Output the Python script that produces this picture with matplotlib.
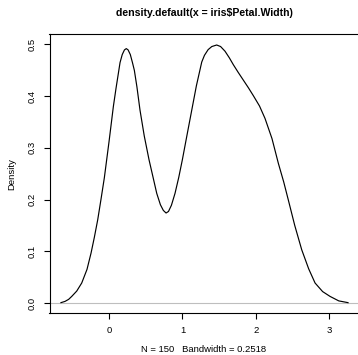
import matplotlib
matplotlib.use("Agg")
import matplotlib.pyplot as plt

plt.rcParams['font.family'] = ['Liberation Sans', 'DejaVu Sans']

# density curve points
dens_x = [-0.655, -0.60, -0.55, -0.508, -0.44, -0.372, -0.30, -0.245, -0.20,
          -0.154, -0.11, -0.064, 0.0, 0.059, 0.095, 0.127, 0.15, 0.18, 0.21,
          0.235, 0.26, 0.29, 0.32, 0.345, 0.38, 0.422, 0.48, 0.545, 0.60, 0.650,
          0.70, 0.74, 0.777, 0.81, 0.85, 0.899, 0.95, 0.999, 1.06, 1.127, 1.19,
          1.263, 1.30, 1.35, 1.40, 1.467, 1.52, 1.58, 1.64, 1.693, 1.76, 1.83,
          1.90, 1.966, 2.05, 2.125, 2.22, 2.307, 2.38, 2.443, 2.53, 2.625, 2.72,
          2.807, 2.91, 3.011, 3.13, 3.256]
dens_y = [0.0006, 0.003, 0.007, 0.0127, 0.023, 0.0386, 0.065, 0.0965, 0.127,
          0.161, 0.200, 0.242, 0.312, 0.380, 0.415, 0.444, 0.465, 0.4805, 0.4895,
          0.492, 0.4895, 0.4805, 0.4645, 0.450, 0.418, 0.373, 0.323, 0.277,
          0.243, 0.212, 0.190, 0.179, 0.174, 0.177, 0.189, 0.212, 0.243, 0.277,
          0.323, 0.373, 0.420, 0.466, 0.479, 0.490, 0.496, 0.499, 0.496, 0.487,
          0.474, 0.461, 0.446, 0.431, 0.416, 0.401, 0.381, 0.357, 0.318, 0.270,
          0.234, 0.199, 0.150, 0.103, 0.066, 0.0386, 0.022, 0.0127, 0.004,
          0.0006]

x_ticks = [0, 1, 2, 3]
y_ticks = [0.0, 0.1, 0.2, 0.3, 0.4, 0.5]
title = "density.default(x = iris$Petal.Width)"
x_label = "N = 150   Bandwidth = 0.2518"
y_label = "Density"

W, H = 358, 355
fig = plt.figure(figsize=(W / 100, H / 100), dpi=100)
left, right, top, bottom = 49.5, 359.4, 34.4, 313.3
ax = fig.add_axes([left / W, 1 - bottom / H, (right - left) / W, (bottom - top) / H])

ax.axhline(0, color="#bebebe", lw=0.8, zorder=1)
ax.plot(dens_x, dens_y, color="black", lw=0.85, zorder=2,
        solid_joinstyle='round')

ax.set_xlim(-0.811, 3.411)
ax.set_ylim(-0.02, 0.5195)
ax.set_xticks(x_ticks)
ax.set_xticklabels([str(t) for t in x_ticks])
ax.set_yticks(y_ticks)
ax.set_yticklabels([f"{t:.1f}" for t in y_ticks])

for s in ax.spines.values():
    s.set_linewidth(0.8)
ax.tick_params(axis='both', direction='out', length=4.3, width=0.8,
               labelsize=6.8, pad=5)
ax.tick_params(axis='y', labelrotation=90)
for lbl in ax.get_yticklabels():
    lbl.set_va('center')

fig.text((left + right) / 2 / W, 1 - 13 / H, title, ha='center', va='center',
         fontsize=7.6, fontweight='bold', parse_math=False)
fig.text(203.5 / W, 1 - 350 / H, x_label, ha='center', va='center', fontsize=6.8)
fig.text(12 / W, 1 - (top + bottom) / 2 / H, y_label, ha='center', va='center',
         rotation=90, fontsize=6.8)

fig.savefig("out.png", dpi=100)
